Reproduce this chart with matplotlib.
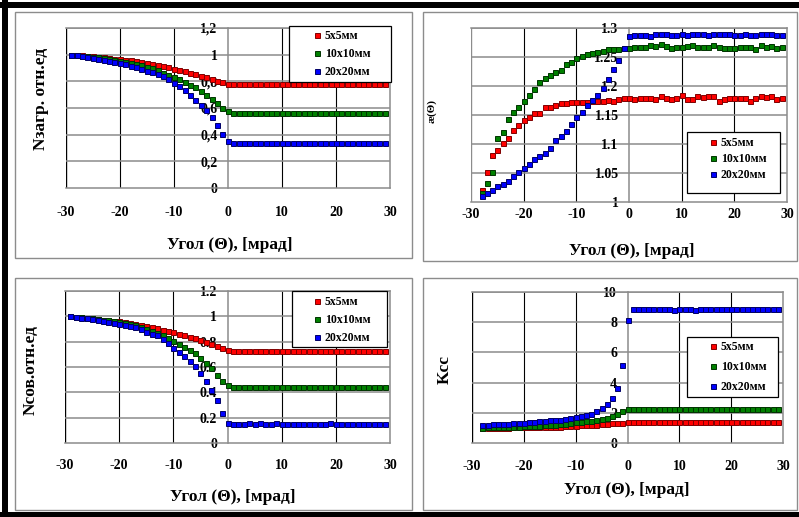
import matplotlib.pyplot as plt
from matplotlib.patches import Rectangle

plt.rcParams['font.family'] = ['Liberation Serif', 'DejaVu Serif']
plt.rcParams['font.weight'] = 'bold'

W, H = 799, 517

labels = ['5x5мм', '10x10мм', '20x20мм']
x_ticks = [-30, -20, -10, 0, 10, 20, 30]

# --- Nзагр (top left), x = -29..29
x_a = list(range(-29, 30))
zagr_5 = [1.000, 0.998, 0.995, 0.992, 0.988, 0.984, 0.980, 0.975, 0.970, 0.966,
          0.962, 0.958, 0.953, 0.947, 0.940, 0.932, 0.923, 0.914, 0.905, 0.895,
          0.885, 0.874, 0.864, 0.853, 0.843, 0.832, 0.818, 0.805, 0.792, 0.780,
          0.778, 0.778, 0.778, 0.778, 0.778, 0.778, 0.778, 0.778, 0.778, 0.778,
          0.778, 0.778, 0.778, 0.778, 0.778, 0.778, 0.778, 0.778, 0.778, 0.778,
          0.778, 0.778, 0.778, 0.778, 0.778, 0.778, 0.778, 0.778, 0.778]
zagr_10 = [1.000, 0.997, 0.993, 0.989, 0.984, 0.979, 0.974, 0.968, 0.962, 0.956,
           0.948, 0.940, 0.931, 0.921, 0.910, 0.897, 0.882, 0.866, 0.848, 0.830,
           0.815, 0.795, 0.775, 0.755, 0.730, 0.700, 0.668, 0.635, 0.602, 0.575,
           0.560, 0.560, 0.560, 0.560, 0.560, 0.560, 0.560, 0.560, 0.560, 0.560,
           0.560, 0.560, 0.560, 0.560, 0.560, 0.560, 0.560, 0.560, 0.560, 0.560,
           0.560, 0.560, 0.560, 0.560, 0.560, 0.560, 0.560, 0.560, 0.560]
zagr_20 = [1.000, 0.995, 0.990, 0.984, 0.977, 0.970, 0.962, 0.954, 0.946, 0.938,
           0.928, 0.918, 0.906, 0.892, 0.880, 0.870, 0.855, 0.840, 0.815, 0.785,
           0.763, 0.733, 0.696, 0.660, 0.622, 0.585, 0.536, 0.474, 0.405, 0.355,
           0.340, 0.340, 0.340, 0.340, 0.340, 0.340, 0.340, 0.340, 0.340, 0.340,
           0.340, 0.340, 0.340, 0.340, 0.340, 0.340, 0.340, 0.340, 0.340, 0.340,
           0.340, 0.340, 0.340, 0.340, 0.340, 0.340, 0.340, 0.340, 0.340]

# --- Nсов (bottom left), x = -29..29
sov_5 = [1.000, 0.997, 0.993, 0.989, 0.985, 0.980, 0.975, 0.970, 0.965, 0.960,
         0.955, 0.948, 0.941, 0.930, 0.922, 0.914, 0.906, 0.896, 0.887, 0.875,
         0.862, 0.850, 0.839, 0.828, 0.815, 0.800, 0.785, 0.766, 0.748, 0.735,
         0.730, 0.730, 0.730, 0.730, 0.730, 0.730, 0.730, 0.730, 0.730, 0.730,
         0.730, 0.730, 0.730, 0.730, 0.730, 0.730, 0.730, 0.730, 0.730, 0.730,
         0.730, 0.730, 0.730, 0.730, 0.730, 0.730, 0.730, 0.730, 0.730]
sov_10 = [1.000, 0.996, 0.992, 0.988, 0.983, 0.978, 0.973, 0.968, 0.962, 0.955,
          0.948, 0.940, 0.930, 0.915, 0.900, 0.885, 0.870, 0.850, 0.830, 0.805,
          0.780, 0.755, 0.735, 0.710, 0.675, 0.630, 0.590, 0.540, 0.490, 0.455,
          0.445, 0.445, 0.445, 0.440, 0.445, 0.445, 0.445, 0.445, 0.440, 0.445,
          0.445, 0.445, 0.445, 0.445, 0.445, 0.445, 0.445, 0.445, 0.445, 0.445,
          0.445, 0.445, 0.445, 0.445, 0.445, 0.445, 0.445, 0.445, 0.445]
sov_20 = [1.000, 0.995, 0.990, 0.984, 0.978, 0.971, 0.963, 0.955, 0.947, 0.938,
          0.930, 0.925, 0.915, 0.900, 0.880, 0.862, 0.850, 0.820, 0.790, 0.753,
          0.716, 0.684, 0.647, 0.610, 0.550, 0.490, 0.416, 0.337, 0.237, 0.160,
          0.150, 0.150, 0.150, 0.155, 0.150, 0.155, 0.150, 0.150, 0.155, 0.150,
          0.150, 0.150, 0.150, 0.150, 0.150, 0.150, 0.150, 0.150, 0.155, 0.150,
          0.150, 0.150, 0.150, 0.150, 0.150, 0.150, 0.150, 0.150, 0.150]

# --- ae(Θ) (top right), x = -28..29
x_b = list(range(-28, 30))
ae_5 = [1.021, 1.052, 1.081, 1.089, 1.102, 1.111, 1.124, 1.132, 1.141, 1.147,
        1.153, 1.153, 1.163, 1.164, 1.167, 1.170, 1.171, 1.172, 1.173, 1.173,
        1.173, 1.174, 1.175, 1.175, 1.176, 1.175, 1.178, 1.179, 1.179, 1.177,
        1.179, 1.180, 1.180, 1.178, 1.183, 1.180, 1.177, 1.179, 1.185, 1.177,
        1.178, 1.183, 1.181, 1.183, 1.183, 1.174, 1.178, 1.179, 1.179, 1.179,
        1.179, 1.175, 1.180, 1.183, 1.181, 1.183, 1.178, 1.179]
ae_10 = [1.015, 1.032, 1.052, 1.111, 1.120, 1.143, 1.156, 1.164, 1.174, 1.184,
         1.195, 1.207, 1.213, 1.219, 1.225, 1.228, 1.238, 1.242, 1.249, 1.251,
         1.255, 1.257, 1.259, 1.261, 1.263, 1.263, 1.263, 1.265, 1.266, 1.267,
         1.267, 1.267, 1.270, 1.269, 1.272, 1.269, 1.265, 1.268, 1.267, 1.269,
         1.271, 1.267, 1.267, 1.268, 1.270, 1.268, 1.266, 1.265, 1.266, 1.268,
         1.268, 1.267, 1.263, 1.271, 1.267, 1.269, 1.266, 1.268]
ae_20 = [1.011, 1.016, 1.021, 1.027, 1.031, 1.037, 1.045, 1.051, 1.058, 1.065,
         1.074, 1.079, 1.084, 1.093, 1.107, 1.113, 1.122, 1.135, 1.146, 1.156,
         1.168, 1.176, 1.184, 1.196, 1.212, 1.229, 1.245, 1.266, 1.287, 1.288,
         1.288, 1.288, 1.286, 1.289, 1.289, 1.289, 1.288, 1.288, 1.289, 1.288,
         1.289, 1.290, 1.290, 1.288, 1.289, 1.289, 1.289, 1.289, 1.288, 1.288,
         1.289, 1.288, 1.288, 1.289, 1.289, 1.289, 1.288, 1.288]

# --- Kсс (bottom right), x = -28..29
k_5 = [1.00, 1.00, 1.01, 1.01, 1.02, 1.02, 1.03, 1.03, 1.04, 1.04,
       1.05, 1.05, 1.06, 1.07, 1.08, 1.09, 1.10, 1.12, 1.14, 1.16,
       1.17, 1.19, 1.21, 1.24, 1.27, 1.30, 1.32, 1.34, 1.38, 1.40,
       1.40, 1.40, 1.40, 1.40, 1.40, 1.40, 1.40, 1.40, 1.40, 1.40,
       1.40, 1.40, 1.40, 1.40, 1.40, 1.40, 1.40, 1.40, 1.40, 1.40,
       1.40, 1.40, 1.40, 1.40, 1.40, 1.40, 1.40, 1.40]
k_10 = [1.02, 1.03, 1.04, 1.04, 1.05, 1.06, 1.07, 1.08, 1.10, 1.11,
        1.12, 1.14, 1.16, 1.18, 1.20, 1.23, 1.27, 1.33, 1.38, 1.42,
        1.46, 1.49, 1.55, 1.61, 1.68, 1.78, 1.94, 2.10, 2.25, 2.28,
        2.28, 2.28, 2.28, 2.28, 2.28, 2.28, 2.28, 2.28, 2.28, 2.28,
        2.28, 2.28, 2.28, 2.28, 2.28, 2.28, 2.28, 2.28, 2.28, 2.28,
        2.28, 2.28, 2.28, 2.28, 2.28, 2.28, 2.28, 2.28]
k_20 = [1.17, 1.19, 1.26, 1.27, 1.27, 1.28, 1.31, 1.35, 1.35, 1.41,
        1.42, 1.46, 1.47, 1.50, 1.52, 1.55, 1.61, 1.68, 1.72, 1.77,
        1.85, 1.94, 2.10, 2.32, 2.60, 3.00, 3.66, 5.14, 8.17, 8.90,
        8.90, 8.85, 8.85, 8.85, 8.85, 8.85, 8.85, 8.78, 8.85, 8.90,
        8.90, 8.78, 8.90, 8.85, 8.85, 8.90, 8.85, 8.85, 8.85, 8.85,
        8.90, 8.90, 8.85, 8.85, 8.85, 8.85, 8.90, 8.90]

fills = ['#ff0000', '#008000', '#0000ff']
edges = ['#800000', '#003300', '#000066']


def fig_rect(l, t, r, b):
    # pixel box (top-left origin) -> figure fraction [left, bottom, width, height]
    return [l / W, 1 - b / H, (r - l) / W, (b - t) / H]


def panel(fig, box, x, series, ylim, yticks, yticklabels, ylabel, ylab_pos,
          ylab_size, xpad, xlab_pos, left_col, leg_box, leg_center, leg_space):
    ax = fig.add_axes(fig_rect(*box))
    for ys, fc, ec, lab in zip(series, fills, edges, labels):
        ax.plot(x, ys, 's', ms=3.6, mfc=fc, mec=ec, mew=0.7, label=lab,
                clip_on=False, zorder=3)
    ax.set_xlim(-30, 30)
    ax.set_ylim(*ylim)
    for v in [-20, -10, 10, 20]:
        ax.axvline(v, color='black', lw=0.8, zorder=1)
    ax.axvline(-30, color=left_col, lw=1.0, zorder=1)
    for v in yticks[1:]:
        ax.axhline(v, color='#8c8c8c', lw=1.1, zorder=1)
    for s in ['top', 'right', 'bottom', 'left']:
        ax.spines[s].set_color('#8c8c8c')
        ax.spines[s].set_linewidth(1.1)
    ax.spines['left'].set_position(('data', 0))
    ax.set_xticks(x_ticks)
    ax.set_xticklabels([str(v) for v in x_ticks])
    ax.set_yticks(yticks)
    ax.set_yticklabels(yticklabels)
    ax.tick_params(axis='x', length=0, pad=xpad, labelsize=10)
    ax.tick_params(axis='y', length=0, pad=7.5, labelsize=10)
    for t in ax.get_xticklabels() + ax.get_yticklabels():
        t.set_fontweight('bold')

    fig.text(xlab_pos[0] / W, 1 - xlab_pos[1] / H, 'Угол (Θ), [мрад]',
             ha='center', va='center', fontsize=12.5, fontweight='bold')
    fig.text(ylab_pos[0] / W, 1 - ylab_pos[1] / H, ylabel, rotation=90,
             ha='center', va='center', fontsize=ylab_size, fontweight='bold')

    # legend box (white, opaque) + frameless legend
    l, t, r, b = leg_box
    rect = Rectangle((l / W, 1 - b / H), (r - l) / W, (b - t) / H,
                     transform=fig.transFigure, facecolor='white',
                     edgecolor='black', lw=0.9, zorder=4, clip_on=False)
    ax.add_artist(rect)
    leg = ax.legend(loc='center',
                    bbox_to_anchor=(leg_center[0] / W, 1 - leg_center[1] / H),
                    bbox_transform=fig.transFigure, frameon=False,
                    prop={'family': 'Liberation Serif', 'weight': 'bold', 'size': 8.5},
                    handlelength=0.6, handletextpad=0.35, labelspacing=leg_space,
                    borderpad=0, numpoints=1)
    leg.set_zorder(5)
    return ax


fig = plt.figure(figsize=(W / 100, H / 100), dpi=100)

# panel frames
for l, t, r, b in [(15, 12, 412, 258), (423, 12, 797, 261),
                   (15, 278, 412, 510), (423, 278, 797, 510)]:
    fig.add_artist(Rectangle((l / W, 1 - b / H), (r - l) / W, (b - t) / H,
                             transform=fig.transFigure, facecolor='none',
                             edgecolor='#8c8c8c', lw=1.0))

# thick black border on top, left and bottom
fig.add_artist(Rectangle((0, 1 - 8 / H), 1, 6 / H, transform=fig.transFigure,
                         facecolor='black', edgecolor='none'))
fig.add_artist(Rectangle((2 / W, 0), 6 / W, 1, transform=fig.transFigure,
                         facecolor='black', edgecolor='none'))
fig.add_artist(Rectangle((0, 0), 1, 5 / H, transform=fig.transFigure,
                         facecolor='black', edgecolor='none'))

panel(fig, (65.7, 28, 390, 188), x_a, [zagr_5, zagr_10, zagr_20], (0, 1.2),
      [0, 0.2, 0.4, 0.6, 0.8, 1.0, 1.2],
      ['0', '0,2', '0,4', '0,6', '0,8', '1', '1,2'],
      'Nзагр. отн.ед', (41, 99), 12.5, 13, (230, 245), 'black',
      (289, 26, 391, 82), (342, 54), 0.5)

panel(fig, (471, 28, 787, 202), x_b, [ae_5, ae_10, ae_20], (1.0, 1.3),
      [1.0, 1.05, 1.1, 1.15, 1.2, 1.25, 1.3],
      ['1', '1.05', '1.1', '1.15', '1.2', '1.25', '1.3'],
      'æ(Θ)', (432, 111), 8, 4, (632, 251), '#8c8c8c',
      (687, 132, 780, 193), (738, 159), 0.35)

panel(fig, (65, 291, 390, 443), x_a, [sov_5, sov_10, sov_20], (0, 1.2),
      [0, 0.2, 0.4, 0.6, 0.8, 1.0, 1.2],
      ['0', '0.2', '0.4', '0.6', '0.8', '1', '1.2'],
      'Nсов.отн.ед', (31, 370), 12.5, 11.5, (233, 497), 'black',
      (292, 291, 387, 347), (342, 320), 0.5)

panel(fig, (472, 292, 783, 443), x_b, [k_5, k_10, k_20], (0, 10),
      [0, 2, 4, 6, 8, 10],
      ['0', '2', '4', '6', '8', '10'],
      'Kсс', (445, 370), 12.5, 12, (627, 490), 'black',
      (687, 337, 778, 397), (738, 367), 0.65)

fig.savefig('out.png', dpi=100)
